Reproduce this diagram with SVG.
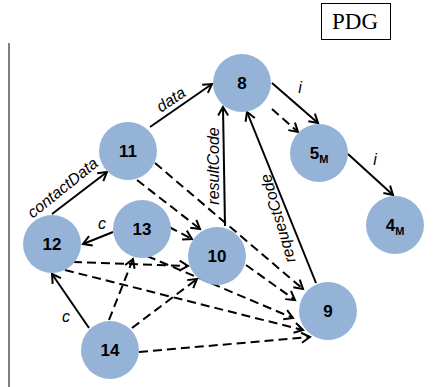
<svg xmlns="http://www.w3.org/2000/svg" width="433" height="387" viewBox="0 0 433 387">
<defs>
<marker id="arr" markerUnits="userSpaceOnUse" markerWidth="14" markerHeight="14" viewBox="-10 -7 12 14" refX="0" refY="0" orient="auto">
<path d="M-8.5,-5 L0,0 L-8.5,5" fill="none" stroke="#000" stroke-width="2" stroke-linejoin="miter"/>
</marker>
</defs>
<style>
.n{fill:#95B3D7}
.nt{font-family:"Liberation Sans",Arial,sans-serif;font-weight:bold;font-size:17px;text-anchor:middle;fill:#000}
.sub{font-size:11px}
.e{fill:none;stroke:#000;stroke-width:2;marker-end:url(#arr)}
.d{stroke-dasharray:9,5}
.l{font-family:"Liberation Sans",Arial,sans-serif;font-style:italic;font-size:16px;text-anchor:middle;fill:#000}
</style>
<rect width="433" height="387" fill="#fff"/>
<line x1="9" y1="43" x2="9" y2="387" stroke="#000" stroke-width="1"/>
<g id="title">
<rect x="321.5" y="3.5" width="69" height="36" fill="#fff" stroke="#000" stroke-width="1"/>
<text x="355" y="29" font-family="'Liberation Serif','Times New Roman',serif" font-size="23" text-anchor="middle">PDG</text>
</g>
<g id="connectors">
<path class="e" d="M150,127 L212,84"/>
<path class="e" d="M272,83 L318,123"/>
<path class="e" d="M348,154 L393,195"/>
<path class="e" d="M52,214 L107,172"/>
<path class="e" d="M113,232 L83,244"/>
<path class="e" d="M89,328 L52,274"/>
<path class="e" d="M225,226 L223,107"/>
<path class="e" d="M316,283 L247,112"/>
<path class="e d" d="M272,109 L298,132"/>
<path class="e d" d="M137,180 L200,229"/>
<path class="e d" d="M155,163 L303,289"/>
<path class="e d" d="M169,227 L192,239"/>
<path class="e d" d="M73,262 L188,266"/>
<path class="e d" d="M65,270 L303,330"/>
<path class="e d" d="M147,256 L293,318"/>
<path class="e d" d="M246,265 L295,300"/>
<path class="e d" d="M109,320 L133,259"/>
<path class="e d" d="M132,328 L197,279"/>
<path class="e d" d="M139,352 L310,337"/>
<text class="l" transform="translate(174,104) rotate(-34)">data</text>
<text class="l" x="300" y="93">i</text>
<text class="l" x="375" y="165">i</text>
<text class="l" transform="translate(66,192) rotate(-39)">contactData</text>
<text class="l" x="102" y="229">c</text>
<text class="l" x="66" y="322">c</text>
<text class="l" transform="translate(219,166) rotate(-90)">resultCode</text>
<text class="l" transform="translate(283,217) rotate(-106)">requestCode</text>
</g>
<g id="n8"><circle class="n" cx="242" cy="83" r="29"/><text class="nt" x="242" y="89">8</text></g>
<g id="n11"><circle class="n" cx="128" cy="151" r="29"/><text class="nt" x="128" y="157">11</text></g>
<g id="n5M"><circle class="n" cx="319" cy="153" r="29"/><text class="nt" x="319" y="159">5<tspan class="sub" dy="4">M</tspan></text></g>
<g id="n4M"><circle class="n" cx="395" cy="225" r="29"/><text class="nt" x="395" y="231">4<tspan class="sub" dy="4">M</tspan></text></g>
<g id="n13"><circle class="n" cx="142" cy="229" r="29"/><text class="nt" x="142" y="235">13</text></g>
<g id="n12"><circle class="n" cx="52" cy="244" r="29"/><text class="nt" x="52" y="250">12</text></g>
<g id="n10"><circle class="n" cx="217" cy="256" r="29"/><text class="nt" x="217" y="262">10</text></g>
<g id="n9"><circle class="n" cx="328" cy="311" r="29"/><text class="nt" x="328" y="317">9</text></g>
<g id="n14"><circle class="n" cx="110" cy="350" r="29"/><text class="nt" x="110" y="356">14</text></g>
</svg>
